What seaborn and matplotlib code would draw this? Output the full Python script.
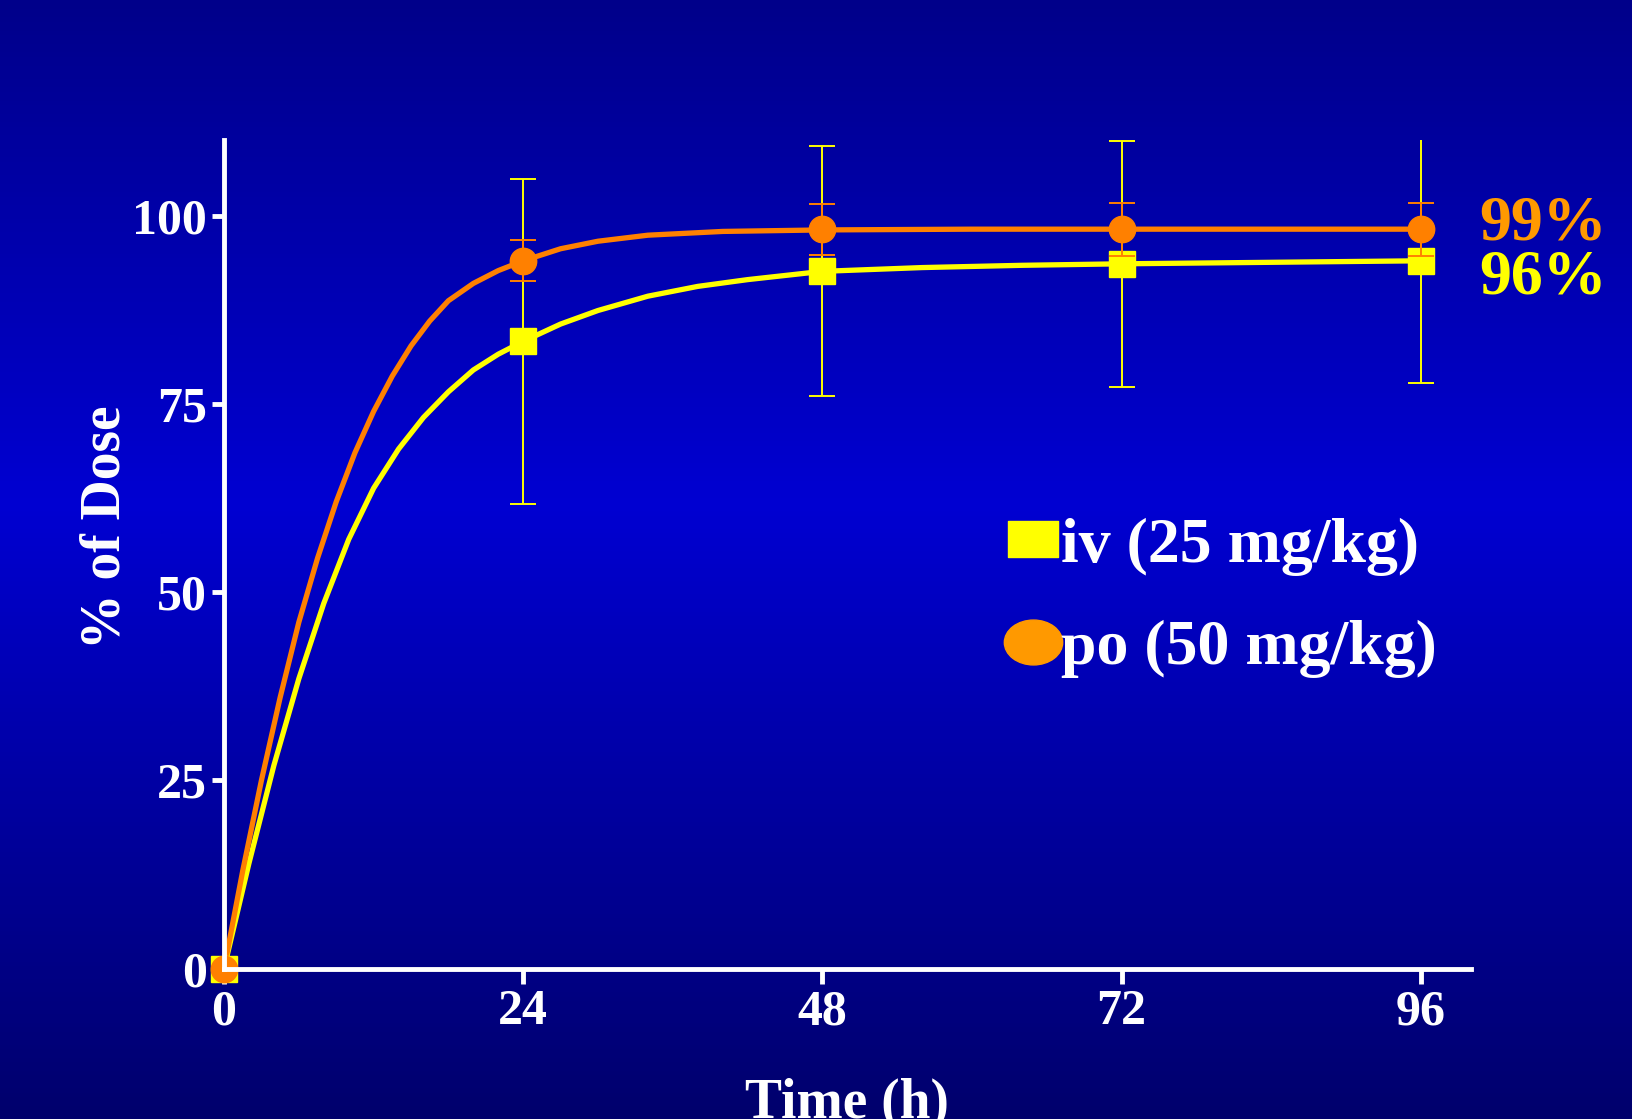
import numpy as np
import pandas as pd
import matplotlib
matplotlib.use("Agg")
import matplotlib.pyplot as plt
import seaborn as sns
from matplotlib.colors import LinearSegmentedColormap
from matplotlib.lines import Line2D
from matplotlib.markers import MarkerStyle
from matplotlib.path import Path
from matplotlib.transforms import Affine2D

# measured points (mean, SD)
times = [0, 24, 48, 72, 96]
iv_mean = [0, 83.3, 92.7, 93.6, 94.0]
iv_sd = [0, 21.6, 16.6, 16.3, 16.2]
po_mean = [0, 94.0, 98.2, 98.2, 98.2]
po_sd = [0, 2.7, 3.4, 3.5, 3.5]

# fitted curves
iv_curve_t = [0, 2, 4, 6, 8, 10, 12, 14, 16, 18, 20, 22, 24, 27, 30, 34, 38, 42, 48, 56, 64, 72, 84, 96]
iv_curve_y = [0, 14, 27, 38.5, 48.5, 57, 63.8, 69, 73.2, 76.6, 79.5, 81.6, 83.3,
              85.6, 87.4, 89.3, 90.6, 91.5, 92.6, 93.1, 93.4, 93.6, 93.8, 94.0]
po_curve_t = [0, 1.5, 3, 4.5, 6, 7.5, 9, 10.5, 12, 13.5, 15, 16.5, 18, 20, 22, 24,
              27, 30, 34, 40, 48, 60, 96]
po_curve_y = [0, 13, 25, 36, 46, 54.5, 62, 68.5, 74, 78.7, 82.7, 86, 88.7, 91.0,
              92.7, 94.0, 95.6, 96.6, 97.4, 97.9, 98.1, 98.2, 98.2]

legend_labels = ["iv (25 mg/kg)", "po (50 mg/kg)"]
end_labels = ["99%", "96%"]

YELLOW = "#FFFF00"
ORANGE = "#FF8000"
LEG_ORANGE = "#FF9900"

sns.set_theme(style="white")
plt.rcParams["font.family"] = ["Liberation Serif", "DejaVu Serif"]
plt.rcParams["font.weight"] = "bold"

fig = plt.figure(figsize=(16.33, 11.19), dpi=100)

# background gradient
bg = fig.add_axes([0, 0, 1, 1], zorder=-10)
cmap = LinearSegmentedColormap.from_list(
    "slide", [(0, "#00008A"), (0.45, "#0000D2"), (1, "#00006C")])
bg.imshow(np.linspace(0, 1, 256).reshape(-1, 1), aspect="auto", cmap=cmap,
          extent=[0, 1, 0, 1], origin="upper")
bg.axis("off")

ax = fig.add_axes([0.1372, 0.1344, 0.7633, 0.7402])
ax.patch.set_alpha(0)

curves = pd.concat([
    pd.DataFrame({"t": iv_curve_t, "y": iv_curve_y, "route": legend_labels[0]}),
    pd.DataFrame({"t": po_curve_t, "y": po_curve_y, "route": legend_labels[1]}),
])
sns.lineplot(data=curves, x="t", y="y", hue="route",
             palette={legend_labels[0]: YELLOW, legend_labels[1]: ORANGE},
             linewidth=3.8, legend=False, ax=ax, zorder=2, clip_on=False)

ax.errorbar(times, iv_mean, yerr=iv_sd, fmt="none", ecolor=YELLOW,
            elinewidth=1.4, capsize=9.5, capthick=1.4, zorder=3)
ax.plot(times, iv_mean, "s", color=YELLOW, ms=19, mec=YELLOW, zorder=3.1, clip_on=False)
ax.errorbar(times, po_mean, yerr=po_sd, fmt="none", ecolor=ORANGE,
            elinewidth=1.4, capsize=9.5, capthick=1.4, zorder=3.5)
ax.plot(times, po_mean, "o", color=ORANGE, ms=19, mec=ORANGE, zorder=3.6, clip_on=False)

ax.set_xlim(0, 100)
ax.set_ylim(0, 110)
ax.set_xticks([0, 24, 48, 72, 96])
ax.set_yticks([0, 25, 50, 75, 100])

for side in ["top", "right"]:
    ax.spines[side].set_visible(False)
for side in ["left", "bottom"]:
    ax.spines[side].set_color("white")
    ax.spines[side].set_linewidth(3.5)
    ax.spines[side].set_zorder(5)
ax.tick_params(axis="both", colors="white", direction="out", width=3.5,
               labelsize=36, bottom=True, left=True)
ax.tick_params(axis="x", length=11, pad=4)
ax.tick_params(axis="y", length=9, pad=3.5)
for lab in ax.get_xticklabels() + ax.get_yticklabels():
    lab.set_fontweight("bold")

ax.set_xlabel("Time (h)", fontsize=40, fontweight="bold", color="white")
ax.set_ylabel("% of Dose", fontsize=40, fontweight="bold", color="white")
ax.xaxis.set_label_coords(0.5, -0.132)
ax.yaxis.set_label_coords(-0.0745, 0.533)

# end-of-curve percentages
ax.text(100.7, 96.8, end_labels[0], color=LEG_ORANGE, fontsize=46,
        fontweight="bold", va="baseline", ha="left")
ax.text(100.7, 89.6, end_labels[1], color=YELLOW, fontsize=46,
        fontweight="bold", va="baseline", ha="left")

# legend with slide-style handles
rect = MarkerStyle(Affine2D().scale(1.4, 1.0).transform_path(Path.unit_rectangle()
                   .transformed(Affine2D().translate(-0.5, -0.5))))
oval = MarkerStyle(Affine2D().scale(1.3, 1.0).transform_path(Path.unit_circle()))
handles = [
    Line2D([], [], ls="none", marker=rect, ms=36.5, color=YELLOW, mec=YELLOW),
    Line2D([], [], ls="none", marker=oval, ms=42, color=LEG_ORANGE, mec=LEG_ORANGE),
]
leg = ax.legend(handles, legend_labels, loc="center left",
                bbox_to_anchor=(0.6, 0.448), frameon=False,
                labelcolor="white", handletextpad=0.0, handlelength=0.9,
                labelspacing=0.68, borderpad=0, prop={"weight": "bold", "size": 46})

fig.savefig("out.png", dpi=100)
